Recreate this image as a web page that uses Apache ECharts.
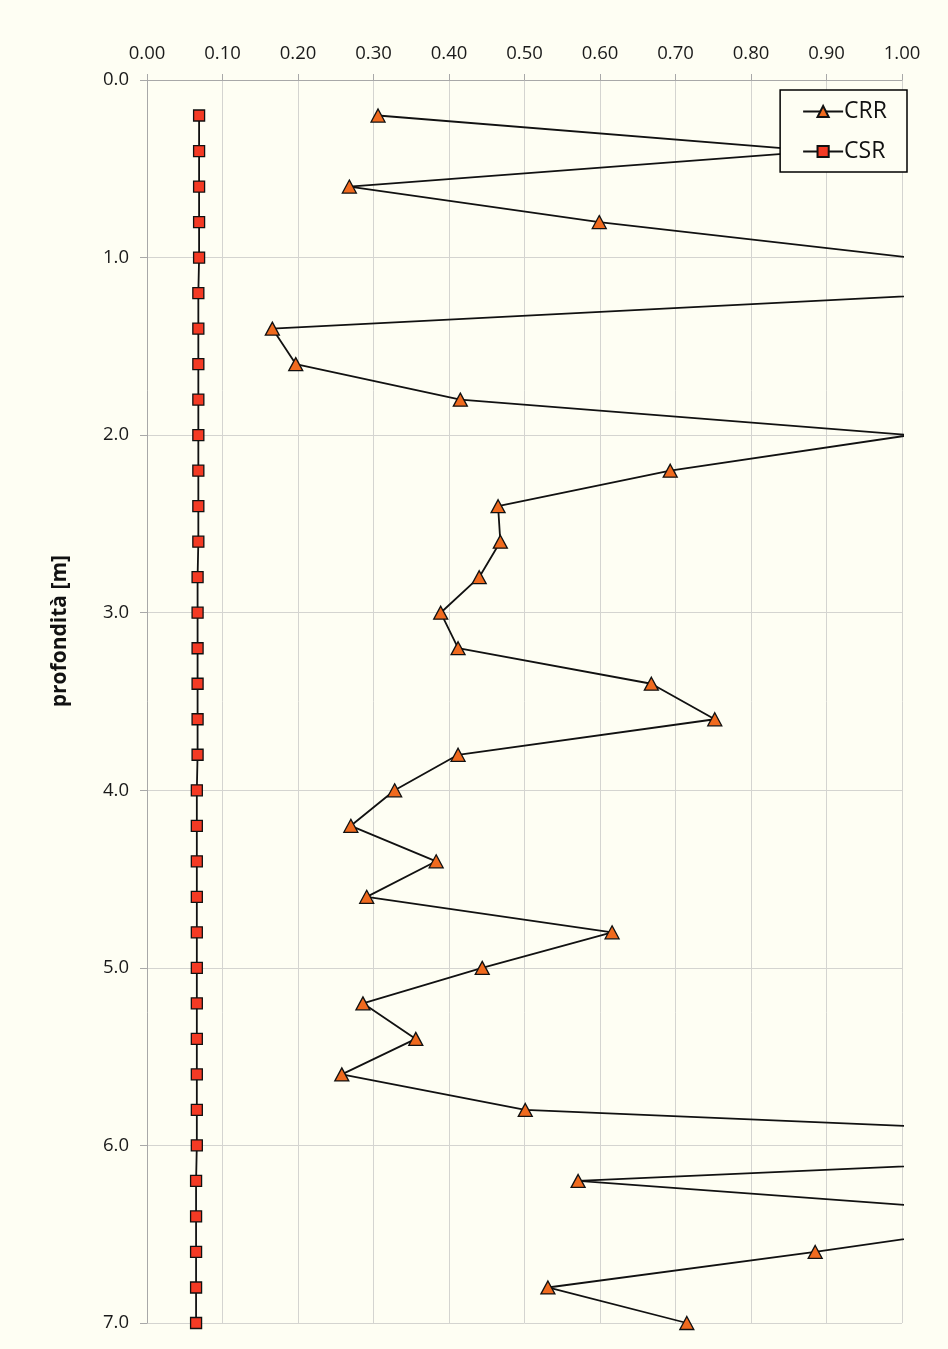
<!DOCTYPE html>
<html>
<head>
<meta charset="utf-8">
<script src="https://cdn.jsdelivr.net/npm/echarts@6/dist/echarts.min.js"></script>
<style>
  html, body { margin: 0; padding: 0; background: #fefef3; }
  #chart { width: 948px; height: 1349px; }
</style>
</head>
<body>
<div id="chart"></div>
<script>
// Depth of each measurement [m]
const depths = [0.2, 0.4, 0.6, 0.8, 1.0, 1.2, 1.4, 1.6, 1.8, 2.0,
                2.2, 2.4, 2.6, 2.8, 3.0, 3.2, 3.4, 3.6, 3.8, 4.0,
                4.2, 4.4, 4.6, 4.8, 5.0, 5.2, 5.4, 5.6, 5.8, 6.0,
                6.2, 6.4, 6.6, 6.8, 7.0];

// Cyclic resistance ratio
const crr = [0.306, 0.89, 0.268, 0.599, 1.01, 1.09, 0.166, 0.197, 0.415, 1.01,
             0.693, 0.465, 0.468, 0.440, 0.389, 0.412, 0.668, 0.752, 0.412, 0.328,
             0.270, 0.383, 0.291, 0.616, 0.444, 0.286, 0.356, 0.258, 0.501, 1.62,
             0.571, 1.21, 0.885, 0.531, 0.715];

// Cyclic stress ratio
const csr = [0.069, 0.069, 0.069, 0.069, 0.069, 0.068, 0.068, 0.068, 0.068, 0.068,
             0.068, 0.068, 0.068, 0.067, 0.067, 0.067, 0.067, 0.067, 0.067, 0.066,
             0.066, 0.066, 0.066, 0.066, 0.066, 0.066, 0.066, 0.066, 0.066, 0.066,
             0.065, 0.065, 0.065, 0.065, 0.065];

const xTickStep = 0.1;
const yTickStep = 1.0;

const chart = echarts.init(document.getElementById('chart'), null, { renderer: 'canvas' });
const font = '"Open Sans", "Noto Sans", sans-serif';
const bg = '#fefef3';

chart.setOption({
  backgroundColor: bg,
  animation: false,
  textStyle: { fontFamily: font },
  grid: { left: 147, right: 46, top: 80, bottom: 26 },
  legend: {
    orient: 'vertical',
    right: 41,
    top: 90,
    padding: [10, 20, 9, 22],
    itemGap: 17,
    itemWidth: 40,
    itemHeight: 14,
    backgroundColor: bg,
    borderColor: '#000',
    borderWidth: 1.5,
    z: 10,
    textStyle: { fontSize: 23, color: '#111', fontFamily: font, padding: [0, 0, 0, -4] },
    data: ['CRR', 'CSR']
  },
  xAxis: {
    type: 'value',
    position: 'top',
    min: 0,
    max: 1,
    interval: xTickStep,
    axisLine: { show: true, lineStyle: { color: '#a8a8a8', width: 1 } },
    axisTick: { show: true, inside: false, length: 6, lineStyle: { color: '#a8a8a8' } },
    axisLabel: {
      fontSize: 18.5, color: '#1a1a1a', margin: 17,
      formatter: v => v.toFixed(2)
    },
    splitLine: { show: true, lineStyle: { color: '#d4d4d0', width: 1 } }
  },
  yAxis: {
    type: 'value',
    inverse: true,
    min: 0,
    max: 7,
    interval: yTickStep,
    axisLine: { show: true, lineStyle: { color: '#a8a8a8', width: 1 } },
    axisTick: { show: true, length: 7, lineStyle: { color: '#a8a8a8' } },
    axisLabel: {
      fontSize: 18.5, color: '#1a1a1a', margin: 18,
      formatter: v => v.toFixed(1)
    },
    splitLine: { show: true, lineStyle: { color: '#d4d4d0', width: 1 } }
  },
  graphic: [{
    type: 'text',
    left: 50,
    top: 555,
    rotation: Math.PI / 2,
    originX: 0, originY: 0,
    style: {
      text: 'profondità [m]',
      fontSize: 21,
      fontWeight: 'bold',
      fontFamily: font,
      fill: '#111'
    }
  }],
  series: [
    {
      name: 'CRR',
      type: 'line',
      clip: true,
      data: depths.map((d, i) => [crr[i], d]),
      symbol: 'triangle',
      symbolSize: [14, 13],
      lineStyle: { color: '#111', width: 1.8 },
      itemStyle: { color: '#f06a1e', borderColor: '#111', borderWidth: 1.3 },
      z: 3
    },
    {
      name: 'CSR',
      type: 'line',
      clip: true,
      data: depths.map((d, i) => [csr[i], d]),
      symbol: 'rect',
      symbolSize: 11,
      lineStyle: { color: '#111', width: 1.8 },
      itemStyle: { color: '#f43a24', borderColor: '#111', borderWidth: 1.3 },
      z: 3
    }
  ]
});
</script>
</body>
</html>
